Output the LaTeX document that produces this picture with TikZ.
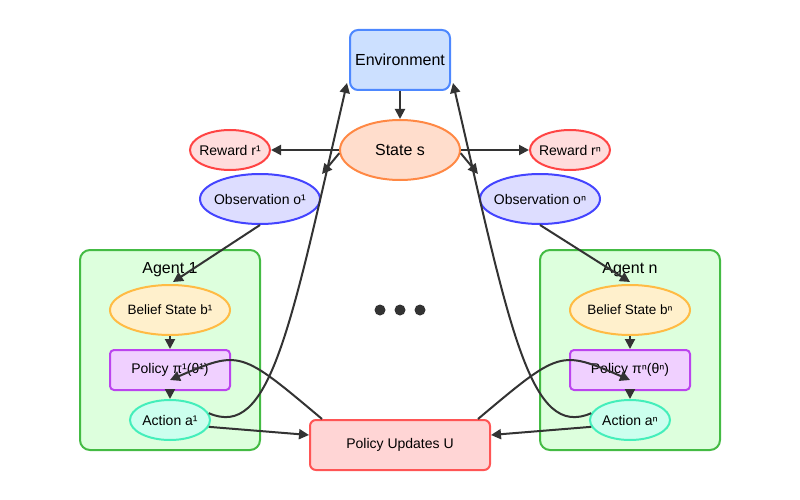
\documentclass[tikz,border=0pt]{standalone}
\usepackage{fontspec}
\setmainfont{Liberation Sans}
\usetikzlibrary{shapes.geometric,arrows.meta,calc}
\definecolor{envfill}{HTML}{CCE0FF}
\definecolor{envdraw}{HTML}{4D88FF}
\definecolor{stfill}{HTML}{FFDDCC}
\definecolor{stdraw}{HTML}{FF8844}
\definecolor{rwfill}{HTML}{FFDDDD}
\definecolor{rwdraw}{HTML}{FF4444}
\definecolor{obfill}{HTML}{DDDDFF}
\definecolor{obdraw}{HTML}{4444FF}
\definecolor{agfill}{HTML}{DDFFDD}
\definecolor{agdraw}{HTML}{44BB44}
\definecolor{blfill}{HTML}{FFF0CC}
\definecolor{bldraw}{HTML}{FFBB44}
\definecolor{plfill}{HTML}{F0D0FF}
\definecolor{pldraw}{HTML}{BB44EE}
\definecolor{acfill}{HTML}{CCFFEE}
\definecolor{acdraw}{HTML}{44EEBB}
\definecolor{upfill}{HTML}{FFD5D5}
\definecolor{updraw}{HTML}{FF5555}
\definecolor{arrc}{HTML}{333333}
\tikzset{
  ell/.style={ellipse, line width=2pt, inner sep=0pt, font=\fontsize{14}{16}\selectfont},
  box/.style={rectangle, line width=2pt, inner sep=0pt, font=\fontsize{14}{16}\selectfont},
  arr/.style={draw=arrc, line width=2pt, -{Triangle[length=10pt,width=10pt]}},
  dotn/.style={circle, fill=arrc, inner sep=0pt, minimum size=11pt}
}
\newcommand{\zt}[1]{\makebox[0pt]{#1}}
\begin{document}
\begin{tikzpicture}[x=1pt,y=-1pt]
\useasboundingbox (0,0) rectangle (800,500);
% agent containers
\node[box, draw=agdraw, fill=agfill, rounded corners=10pt, minimum width=180pt, minimum height=200pt] (ag1) at (170,350) {};
\node[box, draw=agdraw, fill=agfill, rounded corners=10pt, minimum width=180pt, minimum height=200pt] (agn) at (630,350) {};
\node[font=\fontsize{16}{18}\selectfont, inner sep=0pt] (ag1l) at (170,270) {Agent 1};
\node[font=\fontsize{16}{18}\selectfont, inner sep=0pt] (agnl) at (630,270) {Agent n};
% environment and state
\node[box, draw=envdraw, fill=envfill, rounded corners=8pt, minimum width=100pt, minimum height=60pt, font=\fontsize{16}{18}\selectfont] (env) at (400,60) {\zt{Environment}};
\node[ell, draw=stdraw, fill=stfill, minimum width=120pt, minimum height=60pt, font=\fontsize{16}{18}\selectfont] (st) at (400,150) {\zt{State s}};
\node[ell, draw=rwdraw, fill=rwfill, minimum width=80pt, minimum height=40pt] (r1) at (230,150) {\zt{Reward r¹}};
\node[ell, draw=rwdraw, fill=rwfill, minimum width=80pt, minimum height=40pt] (rn) at (570,150) {\zt{Reward rⁿ}};
\node[ell, draw=obdraw, fill=obfill, minimum width=120pt, minimum height=50pt] (o1) at (260,199) {\zt{Observation o¹}};
\node[ell, draw=obdraw, fill=obfill, minimum width=120pt, minimum height=50pt] (on) at (540,199) {\zt{Observation oⁿ}};
% agent internals
\node[ell, draw=bldraw, fill=blfill, minimum width=120pt, minimum height=50pt, font=\fontsize{13.5}{15}\selectfont] (b1) at (170,310) {\zt{Belief State b¹}};
\node[ell, draw=bldraw, fill=blfill, minimum width=120pt, minimum height=50pt, font=\fontsize{13.5}{15}\selectfont] (bn) at (630,310) {\zt{Belief State bⁿ}};
\node[box, draw=pldraw, fill=plfill, rounded corners=4pt, minimum width=120pt, minimum height=40pt] (p1) at (170,370) {\zt{Policy π¹(θ¹)}};
\node[box, draw=pldraw, fill=plfill, rounded corners=4pt, minimum width=120pt, minimum height=40pt] (pn) at (630,370) {\zt{Policy πⁿ(θⁿ)}};
\node[ell, draw=acdraw, fill=acfill, minimum width=80pt, minimum height=40pt] (a1) at (170,420) {\zt{Action a¹}};
\node[ell, draw=acdraw, fill=acfill, minimum width=80pt, minimum height=40pt] (an) at (630,420) {\zt{Action aⁿ}};
% policy updates
\node[box, draw=updraw, fill=upfill, rounded corners=6pt, minimum width=180pt, minimum height=50pt] (up) at (400,445) {\zt{Policy Updates U}};
% dots
\node[dotn] (d1) at (380,310) {};
\node[dotn] (d2) at (400,310) {};
\node[dotn] (d3) at (420,310) {};
% coordinates for free ends
\coordinate (o1tip) at (322,174);
\coordinate (ontip) at (478,174);
% arrows
\draw[arr] (env.south) -- (st.north);
\draw[arr] (st.west) -- (r1.east);
\draw[arr] (st.east) -- (rn.west);
\draw[arr] (st.183) -- (o1tip);
\draw[arr] (st.-3) -- (ontip);
\draw[arr] (o1.south) -- ($(b1.north)+(3,-2)$);
\draw[arr] (on.south) -- ($(bn.north)+(0,-2)$);
\draw[arr] (b1.south) -- (p1.north);
\draw[arr] (bn.south) -- (pn.north);
\draw[arr] (p1.south) -- (a1.north);
\draw[arr] (pn.south) -- (an.north);
\draw[arr] (a1.10) .. controls (270,440) and (290,330) .. ($(env.south west)+(-2,-8)$);
\draw[arr] (an.170) .. controls (530,440) and (510,330) .. ($(env.south east)+(2,-8)$);
\draw[arr] (a1.-10) -- ($(up.west)+(0,-10)$);
\draw[arr] (an.190) -- ($(up.east)+(0,-10)$);
\draw[arr] ($(up.north west)+(13,0)$) .. controls (240,350) .. ($(p1.center)+(0,10)$);
\draw[arr] ($(up.north east)+(-13,0)$) .. controls (560,350) .. ($(pn.center)+(0,10)$);
\end{tikzpicture}
\end{document}
